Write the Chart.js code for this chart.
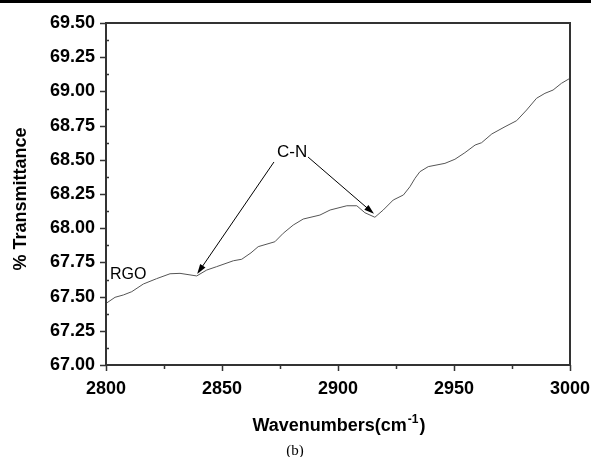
<!DOCTYPE html>
<html>
<head>
<meta charset="utf-8">
<script src="https://cdn.jsdelivr.net/npm/chart.js@4"></script>
<style>
  body { margin: 0; background: #fff; }
  #wrap { width: 591px; height: 457px; position: relative; }
</style>
</head>
<body>
<div id="wrap"><canvas id="ftir"></canvas></div>
<script>
// values
const wavenumbers = [2800, 2803.9, 2807.5, 2811.1, 2816.1, 2821.8, 2827.6, 2831.9, 2839.1, 2843.4,
  2847.7, 2854.9, 2858.5, 2862.5, 2865.6, 2872.8, 2876.4, 2880.7, 2885, 2892.2,
  2896.6, 2903.8, 2908.1, 2911.6, 2915.9, 2919.5, 2923.8, 2928.2, 2931, 2933.2,
  2935.3, 2938.9, 2946.1, 2950.4, 2954.7, 2959.1, 2961.9, 2966.3, 2972, 2977,
  2981.3, 2985.6, 2989.2, 2992.7, 2996.3, 3000];
const transmittance = [67.45, 67.495, 67.512, 67.536, 67.592, 67.631, 67.667, 67.670, 67.651, 67.694,
  67.719, 67.762, 67.773, 67.82, 67.865, 67.901, 67.963, 68.023, 68.067, 68.096,
  68.133, 68.164, 68.164, 68.113, 68.080, 68.133, 68.206, 68.243, 68.303, 68.365,
  68.413, 68.450, 68.474, 68.504, 68.552, 68.608, 68.625, 68.689, 68.742, 68.786,
  68.864, 68.950, 68.986, 69.010, 69.059, 69.096];

const xTicks = [2800, 2850, 2900, 2950, 3000];
const yTicks = [67.00, 67.25, 67.50, 67.75, 68.00, 68.25, 68.50, 68.75, 69.00, 69.25, 69.50];

// annotation anchors in data units
const cnLabel = { text: 'C-N', x: 2880.2, y: 68.557 };
const cnArrows = [
  { from: [2872.4, 68.484], to: [2839.3, 67.665] },
  { from: [2887.1, 68.52], to: [2915.5, 68.105] }
];
const rgoLabel = { text: 'RGO', x: 2801.7, y: 67.658 };

const points = wavenumbers.map((w, i) => ({ x: w, y: transmittance[i] }));

const boldFont = '"Liberation Sans", Arial, sans-serif';
const axisColor = '#333';

function drawArrow(ctx, x1, y1, x2, y2) {
  const ang = Math.atan2(y2 - y1, x2 - x1);
  const len = 10, hw = 3.2;
  ctx.beginPath();
  ctx.moveTo(x1, y1);
  ctx.lineTo(x2 - Math.cos(ang) * len * 0.8, y2 - Math.sin(ang) * len * 0.8);
  ctx.stroke();
  ctx.beginPath();
  ctx.moveTo(x2, y2);
  ctx.lineTo(x2 - Math.cos(ang) * len - Math.sin(ang) * hw, y2 - Math.sin(ang) * len + Math.cos(ang) * hw);
  ctx.lineTo(x2 - Math.cos(ang) * len + Math.sin(ang) * hw, y2 - Math.sin(ang) * len - Math.cos(ang) * hw);
  ctx.closePath();
  ctx.fill();
}

const decorPlugin = {
  id: 'decor',
  beforeDraw(chart) {
    const ctx = chart.ctx;
    ctx.save();
    ctx.fillStyle = '#000';
    ctx.fillRect(0, 0, chart.width, 3);
    ctx.restore();
  },
  afterDraw(chart) {
    const ctx = chart.ctx;
    const a = chart.chartArea;
    const xs = chart.scales.x, ys = chart.scales.y;
    ctx.save();

    // box
    ctx.strokeStyle = axisColor;
    ctx.lineWidth = 2;
    ctx.beginPath();
    ctx.moveTo(a.left, a.bottom);
    ctx.lineTo(a.left, a.top);
    ctx.lineTo(a.right, a.top);
    ctx.lineTo(a.right, a.bottom);
    ctx.lineTo(a.left, a.bottom);
    ctx.stroke();

    // ticks: major outward, minor x outward, minor y inward
    ctx.lineWidth = 1.5;
    ctx.beginPath();
    for (let v = 2800; v <= 3000; v += 25) {
      const px = Math.round(xs.getPixelForValue(v)) + 0.5;
      const l = v % 50 === 0 ? 6 : 4;
      ctx.moveTo(px, a.bottom);
      ctx.lineTo(px, a.bottom + l);
    }
    for (let i = 0; i <= 20; i++) {
      const v = 67 + i * 0.125;
      const py = Math.round(ys.getPixelForValue(v)) + 0.5;
      if (i % 2 === 0) {
        ctx.moveTo(a.left - 6, py);
        ctx.lineTo(a.left, py);
      } else {
        ctx.moveTo(a.left, py);
        ctx.lineTo(a.left + 3, py);
      }
    }
    ctx.stroke();

    // annotations
    ctx.fillStyle = '#000';
    ctx.strokeStyle = '#000';
    ctx.lineWidth = 1;
    cnArrows.forEach(ar => {
      drawArrow(ctx,
        xs.getPixelForValue(ar.from[0]), ys.getPixelForValue(ar.from[1]),
        xs.getPixelForValue(ar.to[0]), ys.getPixelForValue(ar.to[1]));
    });
    ctx.font = '17px ' + boldFont;
    ctx.textAlign = 'center';
    ctx.textBaseline = 'middle';
    ctx.fillText(cnLabel.text, xs.getPixelForValue(cnLabel.x), ys.getPixelForValue(cnLabel.y));
    ctx.font = '16px ' + boldFont;
    ctx.textAlign = 'left';
    ctx.fillText(rgoLabel.text, xs.getPixelForValue(rgoLabel.x), ys.getPixelForValue(rgoLabel.y));

    // axis titles
    ctx.font = 'bold 18px ' + boldFont;
    ctx.textBaseline = 'alphabetic';
    const main = 'Wavenumbers(cm';
    const sup = '-1';
    const close = ')';
    const w1 = ctx.measureText(main).width;
    const w3 = ctx.measureText(close).width;
    ctx.font = 'bold 12px ' + boldFont;
    const w2 = ctx.measureText(sup).width;
    let tx = (a.left + a.right) / 2 - (w1 + w2 + w3) / 2;
    const ty = 431;
    ctx.textAlign = 'left';
    ctx.font = 'bold 18px ' + boldFont;
    ctx.fillText(main, tx, ty);
    ctx.font = 'bold 12px ' + boldFont;
    ctx.fillText(sup, tx + w1 + 1, ty - 8);
    ctx.font = 'bold 18px ' + boldFont;
    ctx.fillText(close, tx + w1 + w2 + 2, ty);

    ctx.save();
    ctx.translate(26, 199);
    ctx.rotate(-Math.PI / 2);
    ctx.textAlign = 'center';
    ctx.fillText('% Transmittance', 0, 0);
    ctx.restore();

    ctx.font = '15px "Liberation Serif", "Times New Roman", serif';
    ctx.textAlign = 'center';
    ctx.fillText('(b)', 295, 455);
    ctx.restore();
  }
};

new Chart(document.getElementById('ftir'), {
  type: 'line',
  data: {
    datasets: [{
      data: points,
      borderColor: '#555',
      borderWidth: 1,
      pointRadius: 0,
      tension: 0,
      fill: false
    }]
  },
  options: {
    responsive: true,
    maintainAspectRatio: false,
    animation: false,
    layout: { padding: { top: 23, right: 21, left: 0, bottom: 0 } },
    plugins: { legend: { display: false }, tooltip: { enabled: false } },
    scales: {
      x: {
        type: 'linear',
        min: 2800,
        max: 3000,
        afterBuildTicks: s => { s.ticks = xTicks.map(v => ({ value: v })); },
        afterFit: s => { s.height = 92; s.paddingLeft = 0; s.paddingRight = 0; },
        grid: { display: false, drawTicks: false },
        border: { display: false },
        ticks: {
          color: '#000',
          padding: 13,
          maxRotation: 0,
          callback: v => String(v),
          font: { family: boldFont, size: 18, weight: 'bold' }
        }
      },
      y: {
        min: 67,
        max: 69.5,
        afterBuildTicks: s => { s.ticks = yTicks.map(v => ({ value: v })); },
        afterFit: s => { s.width = 106; s.paddingTop = 0; s.paddingBottom = 0; },
        grid: { display: false, drawTicks: false },
        border: { display: false },
        ticks: {
          color: '#000',
          padding: 11,
          callback: v => v.toFixed(2),
          font: { family: boldFont, size: 18, weight: 'bold' }
        }
      }
    }
  },
  plugins: [decorPlugin]
});
</script>
</body>
</html>
